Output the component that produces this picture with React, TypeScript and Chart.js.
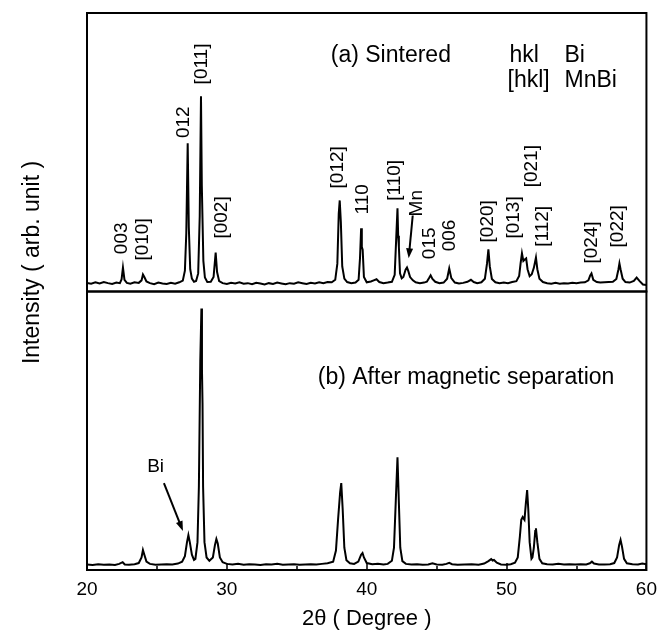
import React, { useEffect, useRef } from "react";
import { Chart, registerables } from "chart.js";

Chart.register(...registerables);

const FONT = "'Liberation Sans', Arial, Helvetica, sans-serif";

// Panel (a): sintered sample, [2θ (deg), intensity (arb.)]
const sinteredPattern: [number, number][] = [
  [20.0, 3.1], [20.3, 2.8], [20.6, 3.3], [20.9, 2.9], [21.2, 3.4], [21.5, 3.0], [21.8, 2.7], [22.1, 3.2],
  [22.35, 3.0], [22.47, 4.3], [22.57, 8.6], [22.68, 4.2], [22.85, 3.1], [23.1, 2.8], [23.4, 3.3], [23.7, 3.1],
  [23.9, 4.0], [24.0, 6.1], [24.1, 5.2], [24.25, 3.6], [24.5, 3.0], [24.8, 2.6], [25.1, 3.2], [25.4, 2.9],
  [25.7, 2.7], [26.0, 3.1], [26.3, 2.8], [26.6, 3.3], [26.85, 3.9], [27.0, 7.5], [27.1, 21], [27.2, 53.2],
  [27.28, 23], [27.38, 8], [27.5, 4.6], [27.65, 3.5], [27.8, 3.8], [27.95, 6.5], [28.06, 27], [28.15, 70.1],
  [28.21, 38], [28.25, 28], [28.32, 11], [28.43, 5], [28.6, 3.4], [28.85, 3.5], [29.05, 5.2], [29.2, 14.0],
  [29.3, 7], [29.45, 3.7], [29.7, 3.0], [30.0, 2.7], [30.3, 3.1], [30.6, 2.9], [30.9, 3.3], [31.2, 2.8],
  [31.5, 3.0], [31.8, 2.6], [32.1, 3.1], [32.4, 2.9], [32.7, 2.5], [33.0, 3.0], [33.3, 2.7], [33.6, 3.2],
  [33.9, 2.9], [34.2, 2.6], [34.5, 3.0], [34.8, 2.8], [35.1, 3.3], [35.4, 3.0], [35.7, 2.7], [36.0, 3.1],
  [36.3, 2.9], [36.6, 3.3], [36.9, 3.0], [37.2, 3.4], [37.5, 3.3], [37.75, 4.2], [37.9, 10], [38.0, 28],
  [38.07, 32.7], [38.15, 25], [38.25, 9], [38.4, 4.6], [38.6, 3.4], [38.9, 3.0], [39.2, 3.2], [39.42, 4.2],
  [39.52, 12], [39.6, 22.7], [39.65, 16], [39.71, 15], [39.8, 5.2], [40.0, 3.3], [40.3, 3.6], [40.5, 4.0],
  [40.7, 4.4], [40.9, 3.4], [41.2, 3.0], [41.5, 3.2], [41.8, 3.5], [42.0, 6], [42.1, 18], [42.2, 29.9],
  [42.25, 20], [42.3, 16], [42.38, 6.5], [42.5, 4.7], [42.62, 5.2], [42.78, 7.8], [42.88, 8.6], [42.97, 7.4],
  [43.1, 5.2], [43.3, 4.0], [43.5, 3.3], [43.8, 3.0], [44.1, 3.2], [44.3, 3.5], [44.47, 4.9], [44.57, 5.8],
  [44.7, 4.5], [44.9, 3.5], [45.2, 3.0], [45.5, 3.2], [45.75, 4.6], [45.9, 8.3], [46.05, 4.8], [46.3, 3.2],
  [46.6, 2.9], [46.9, 3.1], [47.2, 3.5], [47.45, 4.2], [47.65, 3.4], [47.9, 3.0], [48.2, 3.3], [48.45, 4.6],
  [48.6, 10], [48.7, 15.1], [48.8, 9], [48.95, 4.5], [49.2, 3.3], [49.5, 3.0], [49.8, 3.2], [50.1, 3.0],
  [50.4, 3.4], [50.7, 3.7], [50.9, 5.6], [51.0, 10], [51.1, 13.7], [51.2, 11], [51.3, 11.5], [51.4, 11.9],
  [51.5, 8], [51.65, 5.5], [51.8, 6.2], [51.95, 8.5], [52.1, 12.2], [52.2, 8], [52.35, 4.6], [52.6, 3.4],
  [52.9, 3.0], [53.2, 2.8], [53.5, 3.1], [53.8, 2.8], [54.1, 3.0], [54.4, 2.9], [54.7, 3.1], [55.0, 3.0],
  [55.3, 3.2], [55.6, 3.3], [55.85, 4.0], [55.98, 5.8], [56.07, 6.5], [56.2, 4.2], [56.45, 3.4], [56.7, 3.2],
  [57.0, 3.3], [57.3, 3.4], [57.6, 3.5], [57.85, 4.5], [58.0, 8], [58.07, 10.1], [58.15, 8], [58.3, 4.6],
  [58.5, 3.4], [58.8, 3.2], [59.1, 3.8], [59.3, 5.0], [59.5, 3.8], [59.75, 2.5], [60.0, 2.3],
];

// Panel (b): after magnetic separation, [2θ (deg), intensity (arb.)]
const separatedPattern: [number, number][] = [
  [20.0, 2.0], [20.4, 1.8], [20.8, 2.1], [21.2, 1.9], [21.6, 2.0], [22.0, 1.8], [22.3, 2.2], [22.55, 2.8],
  [22.7, 2.0], [23.0, 1.9], [23.4, 2.1], [23.7, 2.5], [23.9, 4.5], [24.0, 7.2], [24.1, 5.5], [24.25, 3.0],
  [24.5, 2.2], [24.9, 1.9], [25.3, 2.0], [25.7, 2.1], [26.1, 2.0], [26.5, 2.3], [26.8, 3.0], [27.0, 5],
  [27.15, 10], [27.25, 12.5], [27.35, 10], [27.5, 5.5], [27.65, 3.6], [27.75, 4], [27.9, 10], [28.0, 30],
  [28.1, 75], [28.18, 93.9], [28.22, 72], [28.26, 60], [28.3, 30], [28.4, 10], [28.55, 4.5], [28.75, 3.3],
  [29.0, 4.5], [29.15, 9], [29.25, 11.1], [29.35, 9.5], [29.5, 4.5], [29.7, 2.8], [30.0, 2.2], [30.4, 2.0],
  [30.8, 2.2], [31.2, 1.9], [31.6, 2.1], [32.0, 2.0], [32.4, 1.8], [32.8, 2.1], [33.2, 2.0], [33.6, 2.2],
  [34.0, 1.9], [34.4, 2.0], [34.8, 2.1], [35.2, 1.9], [35.6, 2.0], [36.0, 2.1], [36.4, 2.0], [36.8, 2.2],
  [37.2, 2.4], [37.6, 3.0], [37.8, 7], [37.95, 18], [38.1, 28], [38.18, 31.2], [38.28, 22], [38.4, 8],
  [38.55, 3.5], [38.8, 2.4], [39.1, 2.2], [39.4, 3.0], [39.6, 5.5], [39.7, 6.1], [39.8, 4.5], [40.0, 2.5],
  [40.4, 2.1], [40.8, 2.2], [41.2, 2.0], [41.5, 2.2], [41.8, 3.3], [41.95, 8], [42.08, 25], [42.2, 40.5],
  [42.3, 24], [42.4, 8], [42.55, 3.2], [42.8, 2.2], [43.2, 2.0], [43.6, 2.1], [44.0, 1.9], [44.4, 2.0],
  [44.7, 2.4], [45.0, 2.0], [45.4, 1.9], [45.7, 2.2], [45.9, 2.6], [46.1, 2.1], [46.5, 1.9], [47.0, 2.0],
  [47.5, 2.1], [48.0, 1.9], [48.4, 2.3], [48.7, 3.2], [48.9, 3.9], [49.0, 3.4], [49.1, 3.6], [49.3, 2.6],
  [49.6, 2.0], [50.0, 1.9], [50.3, 2.1], [50.6, 2.6], [50.8, 4.5], [50.95, 12], [51.05, 18], [51.15, 19],
  [51.28, 18], [51.38, 24], [51.47, 28.7], [51.55, 22], [51.65, 10], [51.78, 4], [51.85, 4.5], [51.95, 8],
  [52.05, 14], [52.1, 15], [52.2, 10], [52.35, 4], [52.55, 2.4], [52.9, 2.1], [53.3, 2.0], [53.7, 2.2],
  [54.1, 2.0], [54.5, 2.1], [54.9, 2.0], [55.3, 2.1], [55.7, 2.0], [55.95, 2.4], [56.1, 3.0], [56.25, 2.3],
  [56.6, 2.0], [57.0, 2.0], [57.4, 2.1], [57.7, 2.5], [57.9, 4.5], [58.05, 9], [58.15, 10.8], [58.25, 8.5],
  [58.4, 4.0], [58.6, 2.4], [59.0, 2.1], [59.4, 2.0], [59.7, 2.3], [60.0, 2.1],
];

const xTickValues = [20, 30, 40, 50, 60];
const xMinorTickValues = [25, 35, 45, 55];

// Peak index labels in panel (a), rotated text centred at (angle, height)
const peakLabels = ["003", "[010]", "012", "[011]", "[002]", "[012]", "110", "[110]", "Mn", "015", "006", "[020]", "[013]", "[021]", "[112]", "[024]", "[022]"];
const peakLabelAngles = [22.5, 24.0, 26.93, 28.21, 29.64, 37.93, 39.71, 42.0, 43.57, 44.5, 45.93, 48.64, 50.5, 51.79, 52.57, 56.07, 57.93];
const peakLabelHeights = [19.1, 18.7, 60.8, 81.7, 26.6, 44.6, 33.1, 39.9, 31.7, 17.3, 20.1, 25.2, 26.6, 45.0, 23.4, 17.6, 23.4];

// Horizontal notes: panel, text, angle of left edge, height of baseline
const noteTexts = ["(a) Sintered", "hkl", "Bi", "[hkl]", "MnBi", "(b) After magnetic separation", "Bi"];
const notePanels = ["yA", "yA", "yA", "yA", "yA", "yB", "yB"];
const noteAngles = [37.43, 50.21, 54.14, 50.07, 54.14, 36.5, 24.3];
const noteHeights = [82.4, 82.4, 82.4, 73.4, 73.4, 66.7, 35.1];
const noteSizes = [23, 23, 23, 23, 23, 23, 19];

// Arrows: panel, from (angle, height) to (angle, height)
const arrowPanels = ["yA", "yB"];
const arrowFrom: [number, number][] = [[43.29, 27.3], [25.5, 31.2]];
const arrowTo: [number, number][] = [[43.0, 11.9], [26.86, 14.0]];

const drawArrow = (ctx: CanvasRenderingContext2D, x1: number, y1: number, x2: number, y2: number) => {
  const ang = Math.atan2(y2 - y1, x2 - x1);
  const hl = 10;
  const hw = 3.5;
  ctx.beginPath();
  ctx.moveTo(x1, y1);
  ctx.lineTo(x2 - Math.cos(ang) * hl * 0.8, y2 - Math.sin(ang) * hl * 0.8);
  ctx.stroke();
  ctx.beginPath();
  ctx.moveTo(x2, y2);
  ctx.lineTo(x2 - Math.cos(ang) * hl - Math.sin(ang) * hw, y2 - Math.sin(ang) * hl + Math.cos(ang) * hw);
  ctx.lineTo(x2 - Math.cos(ang) * hl + Math.sin(ang) * hw, y2 - Math.sin(ang) * hl - Math.cos(ang) * hw);
  ctx.closePath();
  ctx.fill();
};

const decorPlugin = {
  id: "decor",
  afterDatasetsDraw(chart: any) {
    const ctx: CanvasRenderingContext2D = chart.ctx;
    const { left, right } = chart.chartArea;
    const xs = chart.scales.x;
    const yA = chart.scales.yA;
    const yB = chart.scales.yB;
    ctx.save();
    ctx.strokeStyle = "#000";
    ctx.fillStyle = "#000";
    ctx.lineWidth = 2;
    // panel frames
    for (const s of [yA, yB]) {
      ctx.strokeRect(left, s.top, right - left, s.bottom - s.top);
    }
    // inward ticks on bottom axis
    ctx.lineWidth = 1.5;
    const bottom = yB.bottom;
    ctx.beginPath();
    for (const v of xTickValues) {
      const px = Math.round(xs.getPixelForValue(v));
      ctx.moveTo(px, bottom);
      ctx.lineTo(px, bottom - 7);
    }
    for (const v of xMinorTickValues) {
      const px = Math.round(xs.getPixelForValue(v));
      ctx.moveTo(px, bottom);
      ctx.lineTo(px, bottom - 4);
    }
    ctx.stroke();

    // peak labels (rotated)
    ctx.textAlign = "center";
    ctx.textBaseline = "middle";
    ctx.font = `19px ${FONT}`;
    peakLabels.forEach((t, i) => {
      const px = xs.getPixelForValue(peakLabelAngles[i]);
      const py = yA.getPixelForValue(peakLabelHeights[i]);
      ctx.save();
      ctx.translate(px, py);
      ctx.rotate(-Math.PI / 2);
      ctx.fillText(t, 0, 0);
      ctx.restore();
    });

    // notes
    ctx.textAlign = "left";
    ctx.textBaseline = "alphabetic";
    noteTexts.forEach((t, i) => {
      const s = chart.scales[notePanels[i]];
      ctx.font = `${noteSizes[i]}px ${FONT}`;
      ctx.fillText(t, xs.getPixelForValue(noteAngles[i]), s.getPixelForValue(noteHeights[i]));
    });

    // arrows
    ctx.lineWidth = 2;
    arrowPanels.forEach((p, i) => {
      const s = chart.scales[p];
      drawArrow(
        ctx,
        xs.getPixelForValue(arrowFrom[i][0]), s.getPixelForValue(arrowFrom[i][1]),
        xs.getPixelForValue(arrowTo[i][0]), s.getPixelForValue(arrowTo[i][1])
      );
    });

    // y-axis title
    ctx.save();
    ctx.translate(left - 54, (yA.top + yB.bottom) / 2 - 29);
    ctx.rotate(-Math.PI / 2);
    ctx.textAlign = "center";
    ctx.textBaseline = "middle";
    ctx.font = `23px ${FONT}`;
    ctx.fillText("Intensity ( arb. unit )", 0, 0);
    ctx.restore();

    ctx.restore();
  },
};

const hiddenY = (weight: number) => ({
  type: "linear" as const,
  position: "left" as const,
  stack: "xrd",
  stackWeight: weight,
  min: 0,
  max: 100,
  ticks: { display: false },
  grid: { display: false, drawTicks: false },
  border: { display: false },
  afterFit: (s: any) => {
    s.width = 0;
  },
});

export default function App() {
  const ref = useRef<HTMLCanvasElement | null>(null);
  useEffect(() => {
    if (!ref.current) return;
    const chart = new Chart(ref.current, {
      type: "line",
      data: {
        datasets: [
          {
            data: separatedPattern.map(([x, y]) => ({ x, y })),
            yAxisID: "yB",
            borderColor: "#000",
            borderWidth: 2,
            pointRadius: 0,
            tension: 0,
          },
          {
            data: sinteredPattern.map(([x, y]) => ({ x, y })),
            yAxisID: "yA",
            borderColor: "#000",
            borderWidth: 2,
            pointRadius: 0,
            tension: 0,
          },
        ],
      },
      options: {
        animation: false,
        responsive: false,
        devicePixelRatio: 1,
        layout: { padding: { left: 87, right: 18, top: 13, bottom: 0 } },
        plugins: { legend: { display: false }, tooltip: { enabled: false } },
        scales: {
          x: {
            type: "linear",
            position: "bottom",
            min: 20,
            max: 60,
            afterBuildTicks: (s: any) => {
              s.ticks = xTickValues.map((v) => ({ value: v }));
            },
            afterFit: (s: any) => {
              s.height = 62;
            },
            ticks: { color: "#000", font: { family: FONT, size: 19 }, padding: 8, maxRotation: 0 },
            grid: { display: false, drawTicks: false },
            border: { display: false },
            title: {
              display: true,
              text: "2θ ( Degree )",
              color: "#000",
              font: { family: FONT, size: 22 },
              padding: { top: 0, bottom: 0 },
            },
          },
          yB: hiddenY(1),
          yA: hiddenY(1),
        },
      },
      plugins: [decorPlugin],
    });
    return () => chart.destroy();
  }, []);
  return (
    <div style={{ position: "absolute", left: 0, top: 0, width: 665, height: 632, background: "#fff" }}>
      <canvas ref={ref} width={665} height={632} style={{ display: "block" }} />
    </div>
  );
}
